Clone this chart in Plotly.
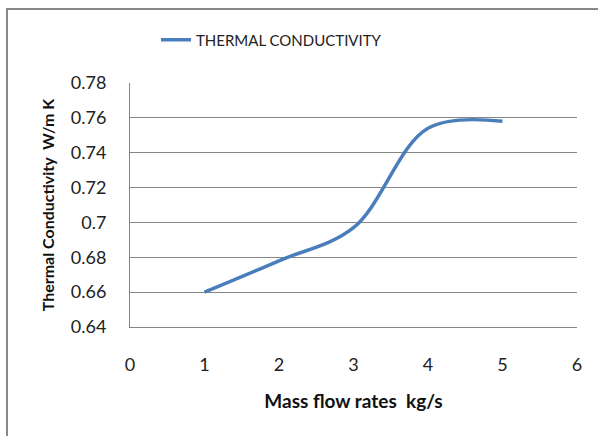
import plotly.graph_objects as go

mass_flow = [1, 2, 3, 4, 5]
conductivity = [0.660, 0.678, 0.697, 0.754, 0.758]
x_ticks = [0, 1, 2, 3, 4, 5, 6]
y_ticks = [0.64, 0.66, 0.68, 0.70, 0.72, 0.74, 0.76, 0.78]
y_tick_text = ["0.64", "0.66", "0.68", "0.7", "0.72", "0.74", "0.76", "0.78"]

FONT = "Lato"
W, H = 598, 436
L, R, T, B = 130, 21, 83, 109
pw, ph = W - L - R, H - T - B

fig = go.Figure()
fig.add_trace(go.Scatter(
    x=mass_flow, y=conductivity, mode="lines",
    line=dict(color="#4a7ebb", width=3.5, shape="spline", smoothing=1.0),
    name="THERMAL CONDUCTIVITY"))

def px_x(p):
    return (p - L) / pw

def px_y(p):
    return (H - B - p) / ph

fig.update_layout(
    width=W, height=H,
    margin=dict(l=L, r=R, t=T, b=B),
    paper_bgcolor="white", plot_bgcolor="white",
    font=dict(family=FONT, size=18, color="#222"),
    showlegend=True,
    legend=dict(orientation="h", x=px_x(156), xanchor="left",
                y=px_y(40), yanchor="middle",
                font=dict(family=FONT, size=15, color="#222"),
                bgcolor="rgba(0,0,0,0)"),
    xaxis=dict(range=[0, 6], tickvals=x_ticks, showgrid=False,
               showline=True, linecolor="#868686", linewidth=1,
               zeroline=False, ticks="", ticklabelstandoff=21,
               tickfont=dict(family=FONT, size=18, color="#222"),
               title=dict(text="<b>Mass flow rates&nbsp; kg/s</b>", standoff=21,
                          font=dict(family=FONT, size=19, color="#111"))),
    yaxis=dict(range=[0.64, 0.78], tickvals=y_ticks, ticktext=y_tick_text,
               showgrid=True, gridcolor="#868686", gridwidth=1,
               showline=True, linecolor="#868686", linewidth=1,
               zeroline=False, ticks="", ticklabelstandoff=19,
               tickfont=dict(family=FONT, size=18, color="#222"),
               title=dict(text="<b>Thermal Conductivity&nbsp; W/m K</b>", standoff=12,
                          font=dict(family=FONT, size=16, color="#111"))),
    shapes=[dict(type="rect", xref="paper", yref="paper",
                 x0=px_x(7), x1=px_x(700), y0=px_y(500), y1=px_y(9),
                 line=dict(color="#888888", width=2), layer="below")],
)

fig.write_html("out.html")
